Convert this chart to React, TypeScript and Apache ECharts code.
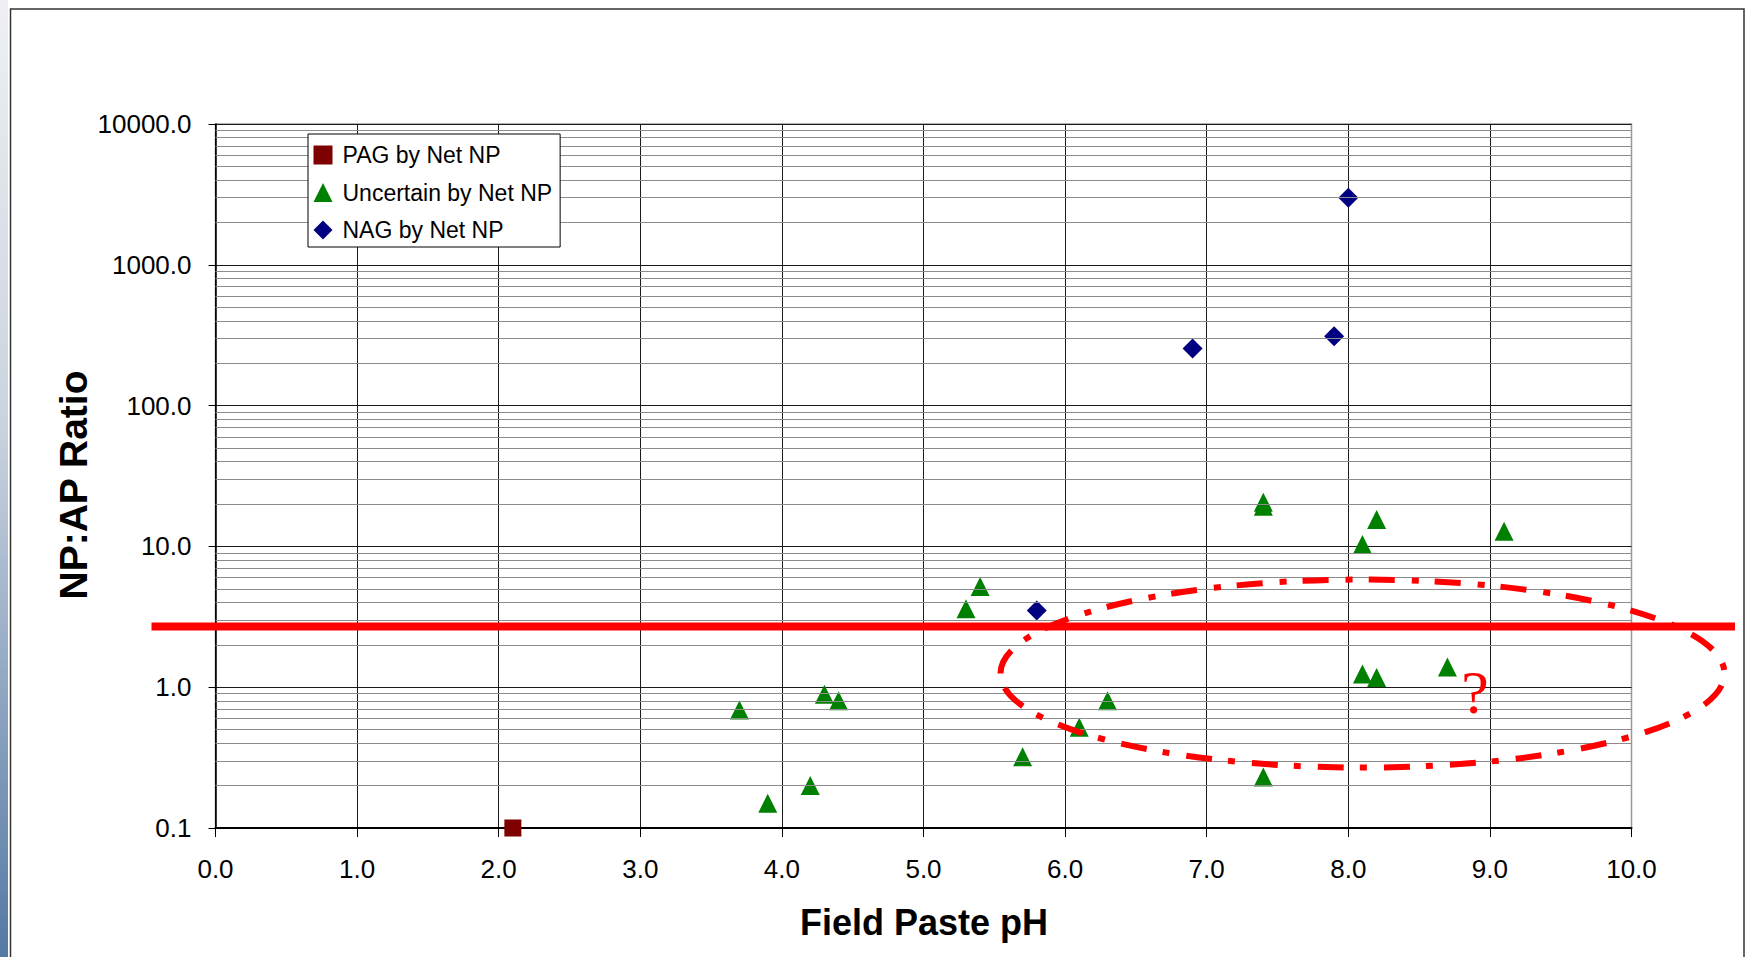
import React, { useEffect, useRef } from "react";
import * as echarts from "echarts";

// ---- data ----
const pagPH = [2.1];
const pagRatio = [0.1];

const uncertainPH = [3.7, 3.9, 4.2, 4.3, 4.4, 5.3, 5.4, 5.7, 6.1, 6.3, 7.4, 7.4, 7.4, 8.1, 8.1, 8.2, 8.2, 8.7, 9.1];
const uncertainRatio = [0.69, 0.15, 0.2, 0.89, 0.8, 3.6, 5.2, 0.32, 0.52, 0.8, 20.6, 19.3, 0.23, 10.3, 1.24, 15.5, 1.17, 1.39, 12.8];

const nagPH = [5.8, 6.9, 7.9, 8.0];
const nagRatio = [3.5, 254, 311, 2990];

const seriesNames = ["PAG by Net NP", "Uncertain by Net NP", "NAG by Net NP"];
const xTitle = "Field Paste pH";
const yTitle = "NP:AP Ratio";

// annotation values
const threshold = 2.7;
const ellipseCenter = [8.1, 1.25];
const decades = [0.1, 1, 10, 100, 1000];
const minorSteps = [2, 3, 4, 5, 6, 7, 8, 9];

const FONT = '"Liberation Sans", Arial, sans-serif';

function pairs(xs: number[], ys: number[]) {
  return xs.map((x, i) => [x, ys[i]]);
}

export default function App() {
  const ref = useRef<HTMLDivElement>(null);

  useEffect(() => {
    const chart = echarts.init(ref.current!, null, { renderer: "svg" });
    const minorValues: number[] = [];
    decades.forEach((d) => minorSteps.forEach((k) => minorValues.push(+(d * k).toPrecision(6))));

    chart.setOption({
      animation: false,
      backgroundColor: "#ffffff",
      grid: {
        left: 215.5,
        right: 113.5,
        top: 124,
        bottom: 129,
        show: true,
        borderColor: "#999999",
        borderWidth: 1.5,
        containLabel: false,
      },
      legend: {
        data: seriesNames,
        orient: "vertical",
        left: 308,
        top: 134,
        itemWidth: 19,
        itemHeight: 19,
        itemGap: 13.5,
        padding: [9, 8, 5, 5.5],
        backgroundColor: "#ffffff",
        borderColor: "#000000",
        borderWidth: 1,
        borderRadius: 0,
        selectedMode: false,
        textStyle: {
          fontSize: 23,
          fontFamily: FONT,
          color: "#000",
          lineHeight: 24,
          padding: [0, 0, 0, 5],
        },
        z: 10,
      },
      xAxis: {
        type: "value",
        min: 0,
        max: 10,
        interval: 1,
        axisLine: { show: true, onZero: false, lineStyle: { color: "#000", width: 2 } },
        axisTick: { show: true, inside: false, length: 9, lineStyle: { color: "#000", width: 1 } },
        axisLabel: {
          margin: 28,
          fontSize: 26,
          fontFamily: FONT,
          color: "#000",
          formatter: (v: number) => v.toFixed(1),
        },
        splitLine: { show: true, showMaxLine: false, lineStyle: { color: "#1a1a1a", width: 1 } },
      },
      yAxis: {
        type: "log",
        logBase: 10,
        min: 0.1,
        max: 10000,
        axisLine: { show: true, lineStyle: { color: "#000", width: 1.5 } },
        axisTick: { show: true, inside: false, length: 7, lineStyle: { color: "#000", width: 1 } },
        axisLabel: {
          margin: 24,
          fontSize: 26,
          fontFamily: FONT,
          color: "#000",
          formatter: (v: number) => Number(v).toFixed(1),
        },
        splitLine: { show: true, lineStyle: { color: "#1a1a1a", width: 1 } },
      },
      series: [
        {
          name: "minorGrid",
          type: "scatter",
          data: [],
          silent: true,
          z: 1,
          markLine: {
            silent: true,
            symbol: ["none", "none"],
            label: { show: false },
            emphasis: { disabled: true },
            lineStyle: { color: "#8c8c8c", width: 1, type: "solid" },
            data: minorValues.map((v) => ({ yAxis: v })),
          },
        },
        {
          name: seriesNames[0],
          type: "scatter",
          symbol: "rect",
          symbolSize: 17,
          itemStyle: { color: "#7f0000", opacity: 1 },
          z: 3,
          data: pairs(pagPH, pagRatio),
        },
        {
          name: seriesNames[1],
          type: "scatter",
          symbol: "triangle",
          symbolSize: 19,
          itemStyle: { color: "#008000", opacity: 1 },
          z: 3,
          data: pairs(uncertainPH, uncertainRatio),
        },
        {
          name: seriesNames[2],
          type: "scatter",
          symbol: "diamond",
          symbolSize: 20,
          itemStyle: { color: "#000080", opacity: 1 },
          z: 3,
          data: pairs(nagPH, nagRatio),
        },
      ],
    });

    const yThr = chart.convertToPixel({ yAxisIndex: 0 }, threshold) as number;
    const c = chart.convertToPixel({ gridIndex: 0 }, ellipseCenter) as number[];

    chart.setOption({
      graphic: [
        {
          type: "rect",
          z: 0,
          silent: true,
          shape: { x: 0, y: 0, width: 8, height: 957 },
          style: {
            fill: {
              type: "linear",
              x: 0,
              y: 0,
              x2: 0,
              y2: 1,
              colorStops: [
                { offset: 0, color: "#eef0f3" },
                { offset: 0.45, color: "#c9d2de" },
                { offset: 1, color: "#5479a4" },
              ],
            },
          },
        },
        {
          type: "rect",
          z: 0,
          silent: true,
          shape: { x: 10.5, y: 9, width: 1733.5, height: 1000 },
          style: { fill: "none", stroke: "#333333", lineWidth: 1.5 },
        },
        {
          type: "text",
          z: 5,
          silent: true,
          x: 73,
          y: 485,
          rotation: Math.PI / 2,
          style: {
            text: yTitle,
            font: `bold 39px ${FONT}`,
            fill: "#000",
            align: "center",
            verticalAlign: "middle",
            textAlign: "center",
            textVerticalAlign: "middle",
          },
        },
        {
          type: "text",
          z: 5,
          silent: true,
          x: 924,
          y: 922.5,
          style: {
            text: xTitle,
            font: `bold 36px ${FONT}`,
            fill: "#000",
            align: "center",
            verticalAlign: "middle",
            textAlign: "center",
            textVerticalAlign: "middle",
          },
        },
        {
          type: "line",
          z: 100,
          silent: true,
          shape: { x1: 151.5, y1: yThr, x2: 1735, y2: yThr },
          style: { stroke: "#ff0000", lineWidth: 8 },
        },
        {
          type: "ellipse",
          z: 100,
          silent: true,
          shape: { cx: c[0], cy: c[1], rx: 362, ry: 94 },
          style: {
            fill: "none",
            stroke: "#ff0000",
            lineWidth: 6,
            lineDash: [26, 17, 7, 16],
          },
        },
        {
          type: "text",
          z: 100,
          silent: true,
          x: 1475,
          y: 692,
          style: {
            text: "?",
            font: '62px "Liberation Serif", "Times New Roman", serif',
            fill: "#ff0000",
            align: "center",
            verticalAlign: "middle",
            textAlign: "center",
            textVerticalAlign: "middle",
          },
        },
      ],
    });

    return () => chart.dispose();
  }, []);

  return (
    <div
      ref={ref}
      style={{ position: "absolute", left: 0, top: 0, width: 1745, height: 957, background: "#fff" }}
    />
  );
}
